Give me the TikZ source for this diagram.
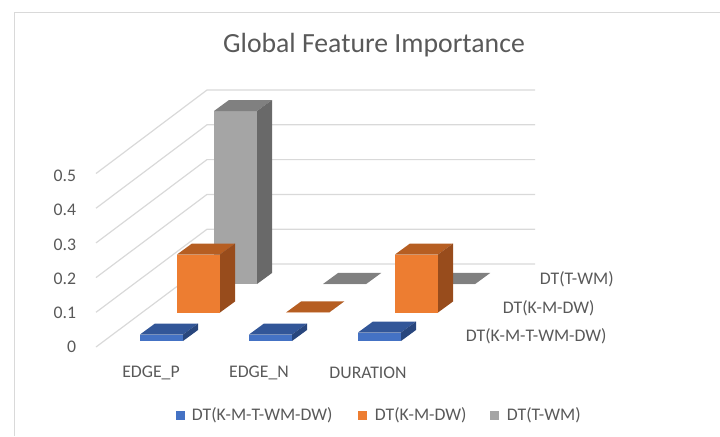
\documentclass[tikz,border=0pt]{standalone}
\usepackage{fontspec}
\setmainfont{Carlito}
\definecolor{txtgray}{RGB}{89,89,89}
\definecolor{gridgray}{RGB}{217,217,217}
\definecolor{bluefront}{RGB}{68,114,196}
\definecolor{bluetop}{RGB}{50,86,152}
\definecolor{blueside}{RGB}{40,70,125}
\definecolor{orangefront}{RGB}{237,125,49}
\definecolor{orangetop}{RGB}{182,94,34}
\definecolor{orangeside}{RGB}{152,76,28}
\definecolor{grayfront}{RGB}{165,165,165}
\definecolor{graytop}{RGB}{128,128,128}
\definecolor{grayside}{RGB}{105,105,105}
\tikzset{every picture/.style={line width=0.75pt}}
\tikzset{
  gridline/.style={color=gridgray, line width=0.9pt},
  axislabel/.style={text=txtgray, font=\fontsize{13.3}{15}\selectfont},
  titlelabel/.style={text=txtgray, font=\fontsize{20.8}{24}\selectfont}
}
% one 3d column: left x, bottom y, height, series
\newcommand{\barbox}[4]{%
  \fill[#4front] (#1,#2) rectangle ++(43,-#3);
  \fill[#4top] (#1,#2-#3) -- ++(15,-11) -- ++(43,0) -- ++(-15,11) -- cycle;
  \fill[#4side] (#1+43,#2) -- ++(15,-11) -- ++(0,-#3) -- ++(-15,11) -- cycle;
}

\begin{document}
\begin{tikzpicture}[x=0.75pt,y=0.75pt,yscale=-1,xscale=1]
\useasboundingbox (0,0) rectangle (720,436);

%Chart border
\draw [gridgray, line width=0.9pt] (720,12.5) -- (14.5,12.5) -- (14.5,436) ;

%Grid lines: side wall and back wall
\foreach \k in {0,...,5} {
  \draw [gridline] (96,347-34.7*\k) -- (207,264-34.8*\k) -- (535,264-34.8*\k) ;
}

%Back row: DT(T-WM)
\barbox{214}{284}{173}{gray}
\barbox{323}{284}{0.01}{gray}
\barbox{432}{284}{0.01}{gray}
%Middle row: DT(K-M-DW)
\barbox{177}{312.5}{58}{orange}
\barbox{286}{312.5}{0.01}{orange}
\barbox{395}{312.5}{58}{orange}
%Front row: DT(K-M-T-WM-DW)
\barbox{140}{341}{6.5}{blue}
\barbox{249}{341}{6.5}{blue}
\barbox{358}{341}{8.5}{blue}

% Text Node
\node [titlelabel] (title) at (374,45) {Global Feature Importance};
% Text Node
\foreach \v/\k in {0/0,0.1/1,0.2/2,0.3/3,0.4/4,0.5/5} {
  \node [axislabel, anchor=east] (tick\k) at (81,347-34.2*\k) {\v};
}
% Text Node
\node [axislabel] (catp) at (151,373) {EDGE\_P};
% Text Node
\node [axislabel] (catn) at (259,373) {EDGE\_N};
% Text Node
\node [axislabel] (catd) at (368,373) {DURATION};
% Text Node
\node [axislabel, anchor=west] (rowtwm) at (535,279) {DT(T-WM)};
% Text Node
\node [axislabel, anchor=west] (rowkmdw) at (498,308) {DT(K-M-DW)};
% Text Node
\node [axislabel, anchor=west] (rowall) at (461,336) {DT(K-M-T-WM-DW)};

%Legend
\fill [bluefront] (176,411) rectangle (185,420) ;
\node [axislabel, anchor=west] (legall) at (187,415.5) {DT(K-M-T-WM-DW)};
\fill [orangefront] (358,411) rectangle (367,420) ;
\node [axislabel, anchor=west] (legkmdw) at (370,415.5) {DT(K-M-DW)};
\fill [grayfront] (490,411) rectangle (499,420) ;
\node [axislabel, anchor=west] (legtwm) at (502,415.5) {DT(T-WM)};

\end{tikzpicture}
\end{document}
